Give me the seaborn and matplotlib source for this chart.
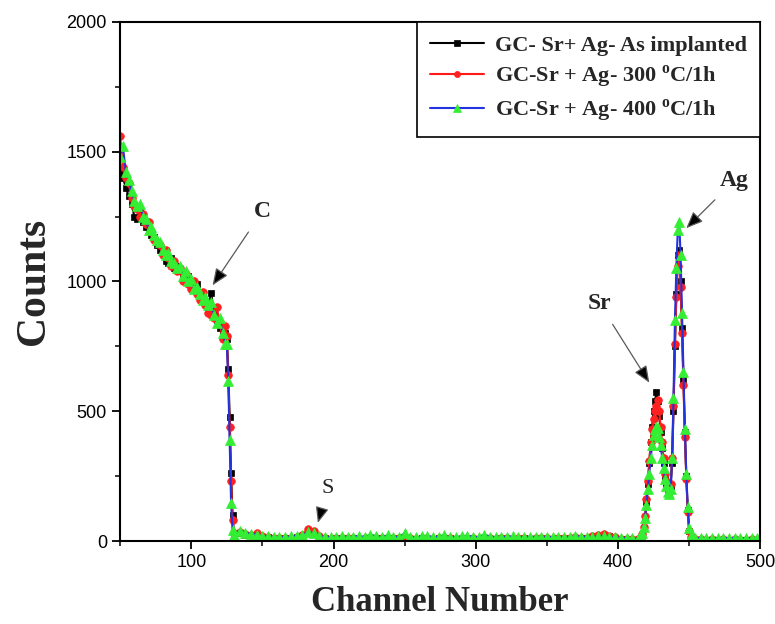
import matplotlib
matplotlib.use("Agg")
import matplotlib.pyplot as plt
import seaborn as sns
import pandas as pd

# ---------------- data ----------------
seg1_channels = list(range(50, 125, 2)) + [125, 126, 127, 128, 129, 130]
seg2_channels = list(range(134, 411, 4))
seg3_channels = list(range(414, 455))
seg4_channels = list(range(458, 499, 4)) + [500]
channels = seg1_channels + seg2_channels + seg3_channels + seg4_channels

as_implanted = [
    1430, 1400, 1360, 1330, 1300, 1250, 1240, 1270, 1230, 1210,
    1200, 1180, 1170, 1140, 1120, 1110, 1080, 1070, 1090, 1050,
    1060, 1040, 1030, 1010, 1020, 1000, 980, 990, 960, 940,
    920, 900, 955, 880, 850, 820, 810, 800,
    780, 664, 476, 261, 100, 30,
    30, 25, 22, 18, 15, 14, 12, 12, 10, 12,
    15, 20, 38, 35, 15, 10, 8, 10, 9, 11,
    10, 8, 9, 10, 12, 10, 8, 9, 10, 11,
    9, 8, 10, 9, 8, 10, 9, 10, 8, 9,
    10, 9, 8, 10, 9, 8, 10, 9, 8, 9,
    10, 8, 9, 10, 9, 8, 10, 9, 10, 12,
    11, 10, 15, 20, 22, 18, 12, 8, 6, 5,
    5, 6, 10, 25, 50, 90, 150, 220, 300, 380,
    440, 500, 540, 575, 540, 480, 420, 360, 300, 250,
    220, 200, 190, 210, 300, 500, 750, 950, 1100, 1120,
    1000, 820, 620, 420, 250, 120, 40, 15, 8, 6, 5,
    5, 4, 5, 4, 5, 4, 5, 4, 4, 5, 4, 4,
]

ann_300 = [
    1560, 1440, 1400, 1380, 1320, 1290, 1280, 1250, 1260, 1220,
    1230, 1190, 1160, 1150, 1140, 1100, 1120, 1090, 1060, 1080,
    1040, 1050, 1000, 1030, 990, 970, 1000, 950, 930, 960,
    910, 880, 870, 860, 900, 840, 780, 830,
    790, 640, 440, 230, 80, 30,
    35, 28, 24, 30, 20, 15, 13, 12, 11, 13,
    16, 25, 45, 40, 18, 11, 9, 10, 10, 12,
    11, 9, 10, 11, 12, 10, 9, 10, 11, 12,
    10, 9, 11, 10, 9, 11, 10, 11, 9, 10,
    11, 10, 9, 11, 10, 9, 11, 10, 9, 10,
    11, 9, 10, 11, 10, 9, 11, 10, 12, 14,
    13, 12, 18, 25, 28, 20, 14, 9, 7, 6,
    6, 7, 12, 28, 55, 95, 160, 230, 310, 380,
    430, 470, 500, 520, 545, 500, 440, 380, 320, 260,
    230, 210, 200, 220, 320, 520, 760, 940, 1060, 1100,
    980, 800, 600, 400, 240, 110, 40, 15, 9, 7, 6,
    6, 5, 6, 5, 6, 5, 6, 5, 5, 6, 5, 5,
]

ann_400 = [
    1480, 1520, 1420, 1390, 1350, 1310, 1290, 1300, 1250, 1240,
    1200, 1210, 1180, 1160, 1150, 1120, 1100, 1110, 1080, 1070,
    1050, 1060, 1020, 1040, 1000, 1010, 970, 980, 950, 930,
    940, 910, 920, 870, 840, 860, 800, 760,
    760, 618, 388, 146, 42, 25,
    40, 30, 28, 25, 20, 18, 16, 15, 14, 18,
    20, 22, 35, 30, 20, 15, 14, 16, 18, 15,
    16, 20, 14, 25, 18, 15, 22, 16, 14, 30,
    15, 14, 18, 20, 15, 16, 22, 14, 15, 18,
    20, 16, 15, 25, 17, 15, 14, 16, 18, 14,
    15, 17, 16, 15, 14, 16, 15, 14, 16, 18,
    17, 15, 16, 18, 20, 15, 14, 12, 10, 10,
    8, 10, 15, 30, 55, 90, 140, 200, 260, 320,
    370, 410, 430, 440, 435, 400, 370, 320, 280, 240,
    210, 190, 180, 200, 320, 550, 850, 1050, 1200, 1230,
    1100, 880, 650, 430, 260, 130, 50, 20, 12, 10, 10,
    12, 11, 12, 10, 12, 11, 12, 11, 10, 12, 11, 10,
]

series_labels = [
    "GC- Sr+ Ag- As implanted",
    r"GC-Sr + Ag- 300 $^{\mathbf{o}}$C/1h",
    r"GC-Sr + Ag- 400 $^{\mathbf{o}}$C/1h",
]
x_ticks = [100, 200, 300, 400, 500]
y_ticks = [0, 500, 1000, 1500, 2000]

peak_labels = ["C", "S", "Sr", "Ag"]
peak_text_xy = [(150, 1270), (196, 203), (387, 915), (482, 1390)]
peak_tip_xy = [(115, 985), (189, 70), (422, 610), (448, 1205)]

# ---------------- style ----------------
sns.set_theme(style="ticks")
plt.rcParams["font.family"] = ["Liberation Sans", "DejaVu Sans"]
plt.rcParams["mathtext.fontset"] = "custom"
plt.rcParams["mathtext.rm"] = "Liberation Serif"
plt.rcParams["mathtext.bf"] = "Liberation Serif:bold"

fig = plt.figure(figsize=(7.75, 6.24), dpi=100)
ax = fig.add_axes([0.155, 0.133, 0.826, 0.832])

styles = [
    dict(color="black", marker="s", markersize=5, mfc="black", mec="black"),
    dict(color="#ff1a1a", marker="o", markersize=5.5, mfc="#ff2020", mec="#ff2020"),
    dict(color="#2233dd", marker="^", markersize=6.5, mfc="#33ee33", mec="#33ee33"),
]
for vals, lab, st in zip([as_implanted, ann_300, ann_400], series_labels, styles):
    df = pd.DataFrame({"Channel": channels, "Counts": vals})
    sns.lineplot(data=df, x="Channel", y="Counts", ax=ax, label=lab,
                 color=st["color"], marker=st["marker"], markersize=st["markersize"],
                 markerfacecolor=st["mfc"], markeredgecolor=st["mec"],
                 markeredgewidth=0.5, linewidth=1.5, estimator=None)

ax.set_xlim(50, 500)
ax.set_ylim(0, 2000)
ax.set_xticks(x_ticks)
ax.set_yticks(y_ticks)
ax.set_xticks(list(range(50, 501, 50)), minor=True)
ax.set_yticks(list(range(0, 2001, 250)), minor=True)
ax.tick_params(axis="both", which="major", direction="out", length=6, width=1.3,
               labelsize=13, colors="black", top=False, right=False)
ax.tick_params(axis="both", which="minor", direction="out", length=3.5, width=1.3,
               top=False, right=False)
for s in ax.spines.values():
    s.set_linewidth(1.5)
    s.set_color("black")
    s.set_visible(True)

serif_bold = dict(family=["Liberation Serif", "DejaVu Serif"], weight="bold")
ax.set_xlabel("Channel Number", fontsize=25, labelpad=11, **serif_bold)
ax.set_ylabel("Counts", fontsize=30, labelpad=10, **serif_bold)

for lab, txy, pxy in zip(peak_labels, peak_text_xy, peak_tip_xy):
    fw = "normal" if lab == "S" else "bold"
    fs = 16 if lab == "S" else 17
    ax.annotate(lab, xy=pxy, xytext=txy, ha="center", va="center",
                fontsize=fs, fontweight=fw,
                family=["Liberation Serif", "DejaVu Serif"],
                arrowprops=dict(arrowstyle="-|>,head_length=0.6,head_width=0.25",
                                ec="0.35", fc="black", lw=0.9,
                                shrinkA=6, shrinkB=0))

leg = ax.legend(loc="upper right", bbox_to_anchor=(1.0, 1.0), borderaxespad=0.0,
                frameon=True, fancybox=False, framealpha=1, edgecolor="black",
                prop=dict(family=["Liberation Serif", "DejaVu Serif"], weight="bold", size=16),
                handlelength=2.4, labelspacing=0.35, borderpad=0.6, handletextpad=0.5,
                markerscale=0.8)
leg.get_frame().set_linewidth(1.2)

fig.savefig("out.png", dpi=100)
